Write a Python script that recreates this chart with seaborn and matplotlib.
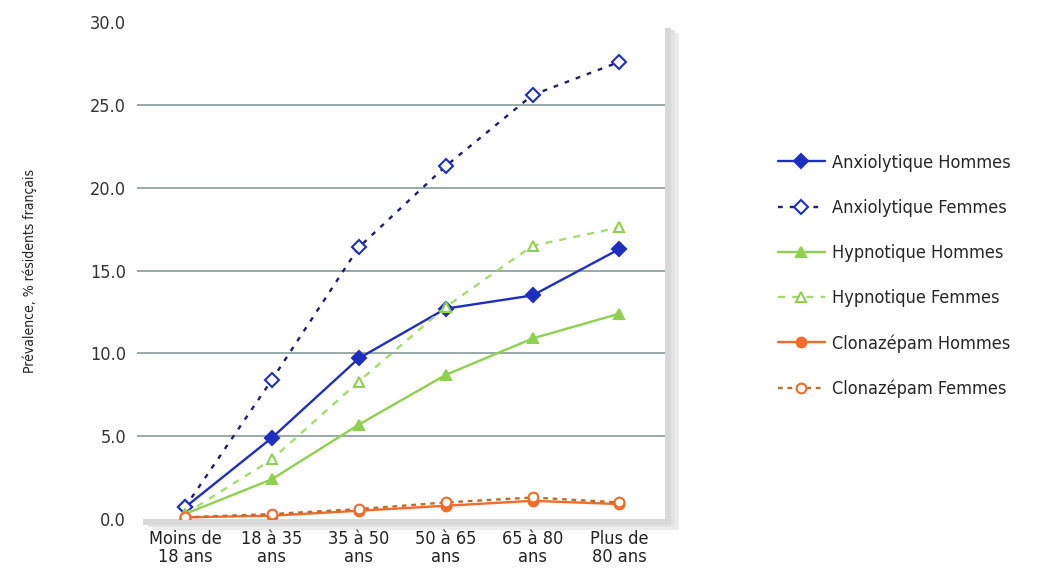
import matplotlib
matplotlib.use("Agg")
import matplotlib.pyplot as plt
import seaborn as sns
import pandas as pd
from matplotlib.patches import Rectangle

categories = ["Moins de\n18 ans", "18 à 35\nans", "35 à 50\nans", "50 à 65\nans", "65 à 80\nans", "Plus de\n80 ans"]
anx_h = [0.7, 4.9, 9.7, 12.7, 13.5, 16.3]
anx_f = [0.7, 8.4, 16.4, 21.3, 25.6, 27.6]
hyp_h = [0.3, 2.4, 5.7, 8.7, 10.9, 12.4]
hyp_f = [0.3, 3.6, 8.3, 12.8, 16.5, 17.6]
clo_h = [0.1, 0.2, 0.5, 0.8, 1.1, 0.9]
clo_f = [0.1, 0.3, 0.6, 1.0, 1.3, 1.0]
yticks = [0, 5, 10, 15, 20, 25, 30]

series = [
    ("Anxiolytique Hommes", anx_h, "#1e2fc0", "#1e2fc0", "-", "D", "#1e2fc0"),
    ("Anxiolytique Femmes", anx_f, "#1c1f6e", "white", (0, (2, 3)), "D", "#1e2fc0"),
    ("Hypnotique Hommes", hyp_h, "#8fd14f", "#8fd14f", "-", "^", "#8fd14f"),
    ("Hypnotique Femmes", hyp_f, "#a6db72", "white", (0, (3, 3)), "^", "#8fd14f"),
    ("Clonazépam Hommes", clo_h, "#f26b2a", "#f26b2a", "-", "o", "#f26b2a"),
    ("Clonazépam Femmes", clo_f, "#b8702c", "white", (0, (2, 2)), "o", "#f26b2a"),
]

sns.set_theme(style="white")
plt.rcParams["font.family"] = ["DejaVu Sans"]
plt.rcParams["font.stretch"] = "condensed"

fig = plt.figure(figsize=(10.55, 5.86), dpi=100)
ax = fig.add_axes([0.130, 0.1143, 0.500, 0.848])
ax.set_zorder(2)

# soft shadow behind plot area
for i, c in enumerate(["#ececec", "#e2e2e2", "#d8d8d8"]):
    off = 0.004 * (3 - i)
    shadow = Rectangle((0.130 + off + 0.002, 0.1143 - off - 0.006), 0.500, 0.848,
                       transform=fig.transFigure, facecolor=c, edgecolor="none", zorder=1)
    fig.add_artist(shadow)
ax.set_facecolor("white")

x = list(range(len(categories)))
for name, vals, lc, fc, ls, mk, ec in series:
    df = pd.DataFrame({"x": x, "y": vals})
    sns.lineplot(data=df, x="x", y="y", ax=ax, color=lc, linestyle=ls, linewidth=1.7,
                 marker=mk, markersize=7, markerfacecolor=fc, markeredgecolor=ec,
                 markeredgewidth=1.5, label=name)

ax.set_xlim(-0.55, 5.52)
ax.set_ylim(0, 30)
ax.set_yticks(yticks)
ax.set_yticklabels([f"{v:.1f}" for v in yticks], fontsize=13, color="#333333")
ax.set_xticks(x)
ax.set_xticklabels(categories, fontsize=13, color="#222222", linespacing=1.0)
ax.tick_params(axis="both", which="both", length=0, width=0, pad=8)
for yv in yticks[1:-1]:
    ax.axhline(yv, color="#8a9a9a", linewidth=1.2, zorder=0.5)
for s in ax.spines.values():
    s.set_visible(False)
ax.grid(False)
ax.set_xlabel("")
ax.set_ylabel("Prévalence, % résidents français", fontsize=10, color="#222222", labelpad=38)

handles, labels = ax.get_legend_handles_labels()
ax.legend(handles, labels, loc="center left", bbox_to_anchor=(0.722, 0.529),
          bbox_transform=fig.transFigure, frameon=False, fontsize=13,
          handlelength=2.6, labelspacing=1.5, handletextpad=0.4)

fig.savefig("out.png", dpi=100)
